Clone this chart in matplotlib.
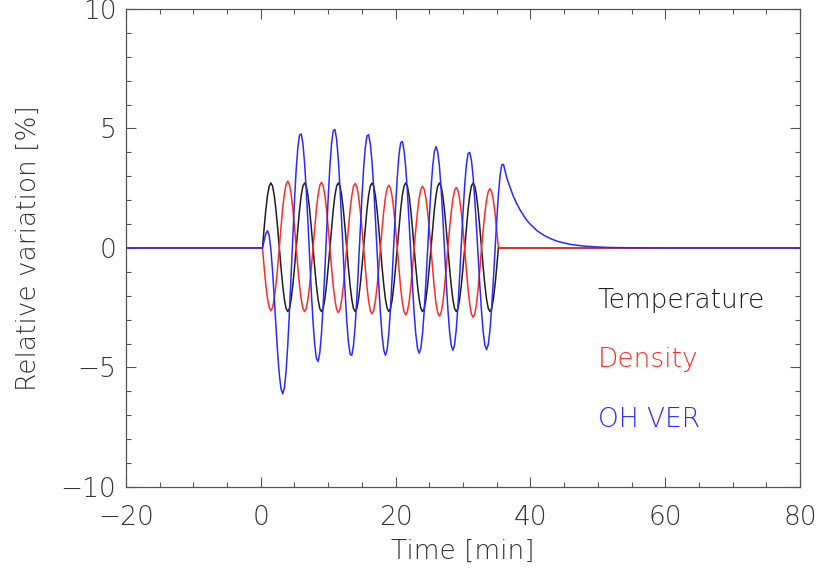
import numpy as np
import matplotlib
matplotlib.use('Agg')
import matplotlib.pyplot as plt
from matplotlib.ticker import MultipleLocator

# Values, 0.25 min grid starting at t = 0.25 min
temperature = [
    0, 0.84, 1.60, 2.20, 2.59, 2.72, 2.59, 2.20, 1.60, 0.84, 0, -0.82, -1.56, -2.15, -2.53, -2.66, -2.53, -2.15, -1.56, -0.82,
    0, 0.84, 1.60, 2.20, 2.59, 2.72, 2.59, 2.20, 1.60, 0.84, 0, -0.82, -1.56, -2.15, -2.53, -2.66, -2.53, -2.15, -1.56, -0.82,
    0, 0.84, 1.60, 2.20, 2.59, 2.72, 2.59, 2.20, 1.60, 0.84, 0, -0.82, -1.56, -2.15, -2.53, -2.66, -2.53, -2.15, -1.56, -0.82,
    0, 0.84, 1.60, 2.20, 2.59, 2.72, 2.59, 2.20, 1.60, 0.84, 0, -0.82, -1.56, -2.15, -2.53, -2.66, -2.53, -2.15, -1.56, -0.82,
    0, 0.84, 1.60, 2.20, 2.59, 2.72, 2.59, 2.20, 1.60, 0.84, 0, -0.82, -1.56, -2.15, -2.53, -2.66, -2.53, -2.15, -1.56, -0.82,
    0, 0.84, 1.60, 2.20, 2.59, 2.72, 2.59, 2.20, 1.60, 0.84, 0, -0.82, -1.56, -2.15, -2.53, -2.66, -2.53, -2.15, -1.56, -0.82,
    0, 0.84, 1.60, 2.20, 2.59, 2.72, 2.59, 2.20, 1.60, 0.84, 0, -0.82, -1.56, -2.15, -2.53, -2.66, -2.53, -2.15, -1.56, -0.82,
    0,
]

density = [
    0, -0.81, -1.54, -2.12, -2.49, -2.62, -2.49, -2.12, -1.54, -0.81, 0, 0.87, 1.65, 2.27, 2.66, 2.80, 2.66, 2.27, 1.65, 0.87,
    0, -0.82, -1.56, -2.15, -2.53, -2.66, -2.53, -2.15, -1.56, -0.82, 0, 0.85, 1.62, 2.22, 2.62, 2.75, 2.62, 2.22, 1.62, 0.85,
    0, -0.83, -1.59, -2.18, -2.57, -2.70, -2.57, -2.18, -1.59, -0.83, 0, 0.83, 1.59, 2.18, 2.57, 2.70, 2.57, 2.18, 1.59, 0.83,
    0, -0.85, -1.62, -2.22, -2.62, -2.75, -2.62, -2.22, -1.62, -0.85, 0, 0.81, 1.55, 2.13, 2.50, 2.63, 2.50, 2.13, 1.55, 0.81,
    0, -0.87, -1.65, -2.27, -2.66, -2.80, -2.66, -2.27, -1.65, -0.87, 0, 0.80, 1.52, 2.09, 2.45, 2.58, 2.45, 2.09, 1.52, 0.80,
    0, -0.88, -1.68, -2.31, -2.71, -2.85, -2.71, -2.31, -1.68, -0.88, 0, 0.78, 1.49, 2.05, 2.41, 2.53, 2.41, 2.05, 1.49, 0.78,
    0, -0.90, -1.71, -2.35, -2.76, -2.90, -2.76, -2.35, -1.71, -0.90, 0, 0.77, 1.46, 2.01, 2.36, 2.48, 2.36, 2.01, 1.46, 0.77,
    0,
]

oh_ver = [
    0, 0.30, 0.60, 0.72, 0.52, -0.08, -0.98, -2.10, -3.28, -4.40, -5.30, -5.89,
    -6.10, -5.86, -5.17, -4.08, -2.69, -1.12, 0.48, 1.99, 3.27, 4.21, 4.72,
    4.77, 4.37, 3.55, 2.41, 1.05, -0.42, -1.84, -3.09, -4.04, -4.62,
    -4.75, -4.40, -3.60, -2.41, -0.97, 0.59, 2.10, 3.40, 4.37, 4.91,
    4.96, 4.55, 3.71, 2.53, 1.13, -0.36, -1.79, -3.03, -3.94, -4.44,
    -4.49, -4.09, -3.27, -2.12, -0.75, 0.70, 2.10, 3.31, 4.19, 4.69,
    4.74, 4.36, 3.61, 2.54, 1.25, -0.14, -1.50, -2.72, -3.67, -4.28,
    -4.49, -4.25, -3.56, -2.50, -1.16, 0.29, 1.72, 2.96, 3.89, 4.40,
    4.46, 4.10, 3.37, 2.35, 1.11, -0.23, -1.53, -2.70, -3.61, -4.20,
    -4.40, -4.19, -3.57, -2.62, -1.41, -0.08, 1.25, 2.46, 3.41, 4.03,
    4.24, 4.03, 3.43, 2.49, 1.30, -0.02, -1.34, -2.52, -3.47, -4.07,
    -4.28, -4.06, -3.42, -2.44, -1.20, 0.15, 1.47, 2.61, 3.47, 3.95,
    4.00, 3.67, 2.99, 2.03, 0.88, -0.36, -1.58, -2.66, -3.52, -4.06,
    -4.25, -4.04, -3.44, -2.52, -1.36, -0.10, 1.14, 2.22, 3.03, 3.48,
    3.50,
]

# OH VER relaxation after the wave has passed
tail_time = [36.5, 37, 37.5, 38, 38.5, 39, 39.5, 40, 41, 42, 43, 44, 45, 46, 47, 48, 50, 52, 55, 60, 80]
tail_ver = [2.94, 2.52, 2.15, 1.84, 1.58, 1.35, 1.15, 0.99, 0.72, 0.53, 0.39, 0.28, 0.21, 0.15, 0.11, 0.08, 0.04, 0.02, 0.01, 0.0, 0.0]

labels = ['Temperature', 'Density', 'OH VER']
colors = ['#1e1e1e', '#ff2a2a', '#2a2aff']

t_wave = 0.25 * np.arange(1, len(temperature) + 1)
t_ver = 0.25 * np.arange(1, len(oh_ver) + 1)

t_temp = np.concatenate(([-20], t_wave, [80]))
y_temp = np.concatenate(([0], temperature, [0]))
y_dens = np.concatenate(([0], density, [0]))
t_oh = np.concatenate(([-20], t_ver, tail_time))
y_oh = np.concatenate(([0], oh_ver, tail_ver))

plt.rcParams['font.family'] = ['DejaVu Sans']
plt.rcParams['font.weight'] = 'light'
plt.rcParams['axes.labelweight'] = 'light'
fig = plt.figure(figsize=(8.17, 5.72), dpi=100)
ax = fig.add_axes([0.1542, 0.1486, 0.8250, 0.8357])

ax.plot(t_temp, y_temp, color=colors[0], lw=1.1)
ax.plot(t_temp, y_dens, color=colors[1], lw=1.1)
ax.plot(t_oh, y_oh, color=colors[2], lw=1.1)

for lab, col, yy in zip(labels, colors, [-2.5, -5.0, -7.5]):
    ax.text(50, yy, lab, color=col, fontsize=19, va='baseline')

ax.set_xlim(-20, 80)
ax.set_ylim(-10, 10)
ax.xaxis.set_major_locator(MultipleLocator(20))
ax.xaxis.set_minor_locator(MultipleLocator(5))
ax.yaxis.set_major_locator(MultipleLocator(5))
ax.yaxis.set_minor_locator(MultipleLocator(1))
ax.tick_params(which='both', direction='in', top=True, right=True, color='#555555', labelcolor='#333333', labelsize=19)
ax.tick_params(which='major', length=7, width=0.8)
ax.tick_params(which='minor', length=3.6, width=0.8)
ax.tick_params(axis='x', pad=13)
ax.tick_params(axis='y', pad=7)
for s in ax.spines.values():
    s.set_color('#555555')
    s.set_linewidth(0.9)

ax.set_xlabel('Time [min]', fontsize=19, color='#333333', labelpad=6)
ax.set_ylabel('Relative variation [%]', fontsize=19, color='#333333', labelpad=14)

fig.savefig('out.png', dpi=100)
